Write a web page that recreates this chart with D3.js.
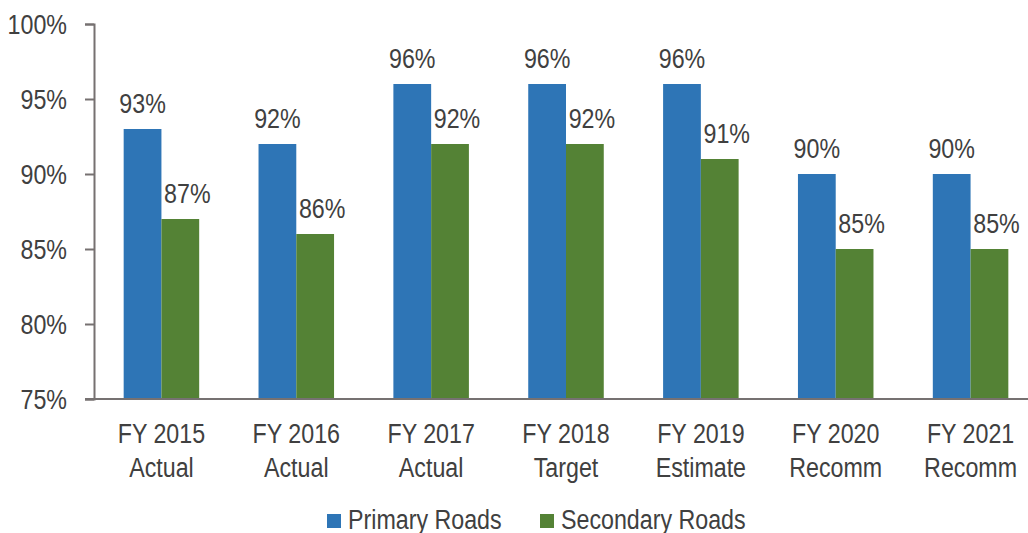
<!DOCTYPE html>
<html>
<head>
<meta charset="utf-8">
<script src="https://cdn.jsdelivr.net/npm/d3@7"></script>
<style>
  html, body { margin: 0; padding: 0; background: #fff; }
  svg { display: block; }
  text { font-family: "Liberation Sans", Arial, sans-serif; fill: #404040; }
</style>
</head>
<body>
<svg id="chart" width="1028" height="533"></svg>
<script>
// Road condition ratings by fiscal year
const categories = [
  ["FY 2015", "Actual"],
  ["FY 2016", "Actual"],
  ["FY 2017", "Actual"],
  ["FY 2018", "Target"],
  ["FY 2019", "Estimate"],
  ["FY 2020", "Recomm"],
  ["FY 2021", "Recomm"]
];
const primaryRoads = [93, 92, 96, 96, 96, 90, 90];
const secondaryRoads = [87, 86, 92, 92, 91, 85, 85];
const seriesNames = ["Primary Roads", "Secondary Roads"];
const yTicks = [75, 80, 85, 90, 95, 100];

const colors = ["#2E75B6", "#548235"];
const axisColor = "#767171";
const fontSize = 28;
const narrow = 0.83; // horizontal squeeze for a condensed look

const svg = d3.select("#chart");
const W = 1028, H = 533;
const plotLeft = 94, plotRight = 1038, plotTop = 24, plotBottom = 399;

const keys = categories.map((c, i) => i);
const x = d3.scaleBand().domain(keys).range([plotLeft, plotRight]).paddingInner(0.44).paddingOuter(0.22);
const xs = d3.scaleBand().domain([0, 1]).range([0, x.bandwidth()]).padding(0);
const y = d3.scaleLinear().domain([75, 100]).range([plotBottom, plotTop]);

// Places a condensed text at (tx, ty)
function label(sel, tx, ty) {
  return sel.attr("transform", (d, i) => `translate(${tx(d, i)},${ty(d, i)}) scale(${narrow},1)`)
    .attr("font-size", fontSize);
}

const series = [primaryRoads, secondaryRoads];
const labelShift = [0, 7]; // secondary labels sit slightly to the right

// Bars and value labels
series.forEach((vals, s) => {
  svg.append("g").selectAll("rect")
    .data(vals)
    .join("rect")
    .attr("x", (d, i) => x(i) + xs(s))
    .attr("y", d => y(d))
    .attr("width", xs.bandwidth())
    .attr("height", d => y(75) - y(d))
    .attr("fill", colors[s]);

  label(svg.append("g").selectAll("text")
    .data(vals)
    .join("text")
    .attr("text-anchor", "middle")
    .text(d => d + "%"),
    (d, i) => x(i) + xs(s) + xs.bandwidth() / 2 + labelShift[s],
    d => y(d) - 16);
});

// Y axis line and ticks
const yAxis = svg.append("g")
  .attr("transform", `translate(${plotLeft},0)`)
  .call(d3.axisLeft(y).tickValues(yTicks).tickSize(9).tickFormat(""));
yAxis.select(".domain").attr("stroke", axisColor).attr("stroke-width", 2);
yAxis.selectAll(".tick line").attr("stroke", axisColor).attr("stroke-width", 2);

// Y tick labels
label(svg.append("g").selectAll("text")
  .data(yTicks)
  .join("text")
  .attr("text-anchor", "end")
  .text(d => d + "%"),
  () => 67,
  d => y(d) + 10);

// X axis baseline
svg.append("line")
  .attr("x1", plotLeft - 9).attr("x2", W)
  .attr("y1", y(75)).attr("y2", y(75))
  .attr("stroke", axisColor).attr("stroke-width", 2);

// Category labels (two lines)
const catText = label(svg.append("g").selectAll("text")
  .data(categories)
  .join("text")
  .attr("text-anchor", "middle"),
  (d, i) => x(i) + x.bandwidth() / 2,
  () => 443);
catText.selectAll("tspan")
  .data(d => d)
  .join("tspan")
  .attr("x", 0)
  .attr("y", (d, j) => j * 34)
  .text(d => d);

// Legend
const legendItems = [
  { name: seriesNames[0], color: colors[0], x: 327 },
  { name: seriesNames[1], color: colors[1], x: 540 }
];
const lg = svg.append("g").selectAll("g")
  .data(legendItems)
  .join("g")
  .attr("transform", d => `translate(${d.x},0)`);
lg.append("rect")
  .attr("x", 0).attr("y", 514)
  .attr("width", 14).attr("height", 14)
  .attr("fill", d => d.color);
label(lg.append("text").text(d => d.name), () => 21, () => 529);
</script>
</body>
</html>
